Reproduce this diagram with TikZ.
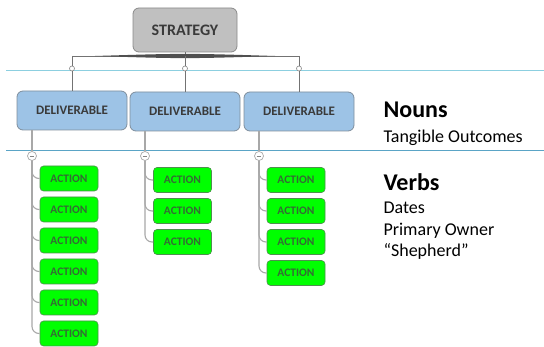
\documentclass[tikz,border=0pt]{standalone}
\usepackage{fontspec}
\setmainfont{Carlito}
\definecolor{sepA}{HTML}{8CCFE0}
\definecolor{sepB}{HTML}{5AA4C6}
\definecolor{stratfill}{HTML}{C0C0C0}
\definecolor{stratdraw}{HTML}{8A8A8A}
\definecolor{delfill}{HTML}{9DC3E6}
\definecolor{deldraw}{HTML}{7F8E9C}
\definecolor{actfill}{HTML}{00FF00}
\definecolor{actdraw}{HTML}{4F8F4F}
\definecolor{acttext}{HTML}{356B35}
\definecolor{boxtext}{HTML}{3A3A3A}
\definecolor{conn}{HTML}{A8A8A8}
\definecolor{darkconn}{HTML}{505050}
\tikzset{
  stratbox/.style={draw=stratdraw, fill=stratfill, rounded corners=6pt, line width=0.8pt,
    minimum width=104pt, minimum height=44pt, inner sep=0pt,
    font=\fontsize{16}{18}\selectfont\bfseries, text=boxtext},
  delbox/.style={draw=deldraw, fill=delfill, rounded corners=6pt, line width=0.8pt,
    minimum width=110pt, minimum height=39pt, inner sep=0pt,
    font=\fontsize{13}{15}\selectfont\bfseries, text=boxtext},
  actbox/.style={draw=actdraw, fill=actfill, rounded corners=3.5pt, line width=0.6pt,
    minimum width=58pt, minimum height=25pt, inner sep=0pt,
    font=\fontsize{11.5}{13}\selectfont\bfseries, text=acttext},
  knob/.style={circle, draw=darkconn!70, fill=white, line width=0.6pt, minimum size=5pt, inner sep=0pt},
  minusknob/.style={circle, draw=conn, fill=white, line width=0.7pt, minimum size=9pt, inner sep=0pt},
  trunk/.style={draw=conn, line width=1.1pt, rounded corners=7pt},
  topconn/.style={draw=darkconn!80, line width=0.9pt},
  head/.style={anchor=base west, font=\fontsize{24}{28}\selectfont\bfseries},
  sub/.style={anchor=base west, font=\fontsize{18}{21}\selectfont},
}
\begin{document}
\begin{tikzpicture}[x=1pt,y=-1pt]
\useasboundingbox (0,0) rectangle (544,347);
% separators
\coordinate (sA1) at (6,71); \coordinate (sA2) at (544,71);
\coordinate (sB1) at (6,151); \coordinate (sB2) at (544,151);
\draw[sepA, line width=1pt] (sA1) -- (sA2);
\draw[sepB, line width=1pt] (sB1) -- (sB2);

% strategy
\node[stratbox] (strat) at (185,30) {STRATEGY};
% deliverables
\node[delbox] (d1) at (72,110.5) {DELIVERABLE};
\node[delbox] (d2) at (185,111.5) {DELIVERABLE};
\node[delbox] (d3) at (299,111.5) {DELIVERABLE};

% bar
\coordinate (b1) at (72,56); \coordinate (b2) at (185,56); \coordinate (b3) at (299,56);
\coordinate (t1) at (95,56); \coordinate (t2) at (275,56);
\draw[topconn] (strat.south) -- (b2);
\draw[topconn] (b1) -- (b3);
\fill[darkconn] (t1) .. controls (185,53.2) .. (t2) .. controls (185,58.8) .. (t1);
\node[knob] (k1) at (72,68.5) {};
\node[knob] (k2) at (185,68.5) {};
\node[knob] (k3) at (299,68.5) {};
\draw[topconn] (b1) -- (k1.north) (k1.south) -- (d1.north);
\draw[topconn] (k2.north) -- (b2) (k2.south) -- (d2.north);
\draw[topconn] (b3) -- (k3.north) (k3.south) -- (d3.north);

% minus knobs
\node[minusknob] (m1) at (32,156) {};
\node[minusknob] (m2) at (145,156) {};
\node[minusknob] (m3) at (259,156) {};
\foreach \m in {m1,m2,m3}{
  \draw[darkconn!70, line width=0.8pt] ([xshift=-2.3pt]\m.center) -- ([xshift=2.3pt]\m.center);
}
\draw[draw=conn, line width=1.1pt] (d1.south -| m1) -- (m1.north);
\draw[draw=conn, line width=1.1pt] (d2.south -| m2) -- (m2.north);
\draw[draw=conn, line width=1.1pt] (d3.south -| m3) -- (m3.north);

% actions column 1
\node[actbox] (a11) at (69,178.5) {ACTION};
\node[actbox] (a12) at (69,209.5) {ACTION};
\node[actbox] (a13) at (69,240.5) {ACTION};
\node[actbox] (a14) at (69,271.5) {ACTION};
\node[actbox] (a15) at (69,302.5) {ACTION};
\node[actbox] (a16) at (69,333.5) {ACTION};
% column 2
\node[actbox] (a21) at (182.5,180) {ACTION};
\node[actbox] (a22) at (182.5,211) {ACTION};
\node[actbox] (a23) at (182.5,242) {ACTION};
% column 3
\node[actbox] (a31) at (296,180) {ACTION};
\node[actbox] (a32) at (296,211) {ACTION};
\node[actbox] (a33) at (296,242) {ACTION};
\node[actbox] (a34) at (296,273) {ACTION};

\foreach \a in {a11,a12,a13,a14,a15,a16}{ \draw[trunk] (m1.south) |- (\a.west); }
\foreach \a in {a21,a22,a23}{ \draw[trunk] (m2.south) |- (\a.west); }
\foreach \a in {a31,a32,a33,a34}{ \draw[trunk] (m3.south) |- (\a.west); }

% right-hand text
\node[head] (nouns) at (380,118) {Nouns};
\node[sub] (tang) at (380,143) {Tangible Outcomes};
\node[head] (verbs) at (380,191) {Verbs};
\node[sub] (dates) at (380,214) {Dates};
\node[sub] (owner) at (380,235.5) {Primary Owner};
\node[sub] (shep) at (380,257) {“Shepherd”};
\end{tikzpicture}
\end{document}
